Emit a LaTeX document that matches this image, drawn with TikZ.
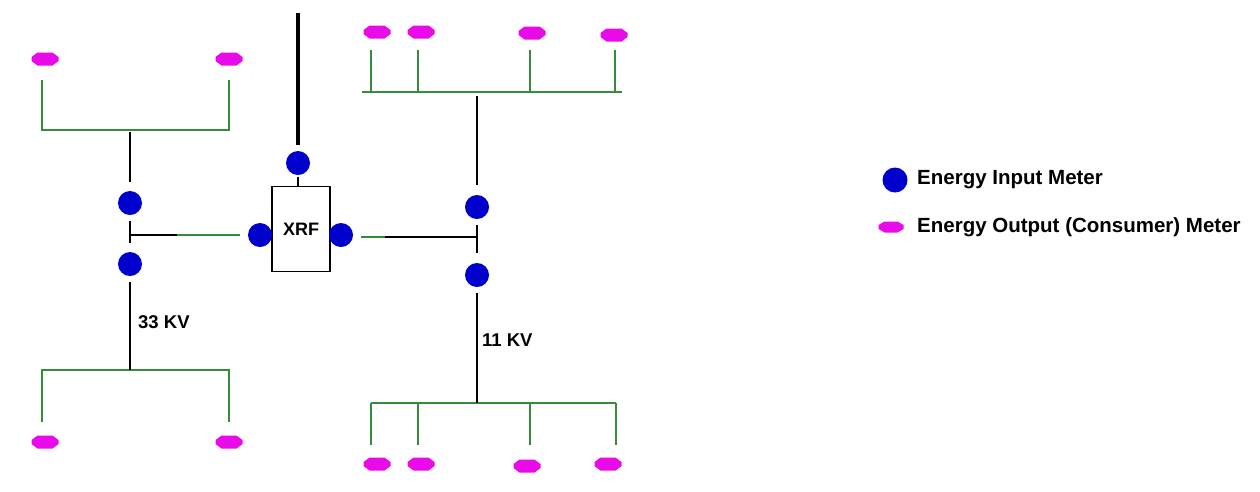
\documentclass[tikz,border=0pt]{standalone}
\usepackage{fontspec}
\setmainfont{Liberation Sans}
\usetikzlibrary{shapes.geometric}
\definecolor{meterblue}{RGB}{0,0,205}
\definecolor{metermag}{RGB}{232,10,232}
\definecolor{busgreen}{RGB}{55,140,60}
\begin{document}
\begin{tikzpicture}[x=1pt,y=-1pt,
  inmeter/.style={circle,fill=meterblue,draw=none,minimum size=24pt,inner sep=0pt},
  outmeter/.style={rectangle,draw=none,minimum width=27pt,minimum height=13pt,inner sep=0pt,
    path picture={\fill[metermag]
      ([yshift=2pt]path picture bounding box.west) --
      ([xshift=6pt]path picture bounding box.north west) --
      ([xshift=-6pt]path picture bounding box.north east) --
      ([yshift=2pt]path picture bounding box.east) --
      ([yshift=-2pt]path picture bounding box.east) --
      ([xshift=-6pt]path picture bounding box.south east) --
      ([xshift=6pt]path picture bounding box.south west) --
      ([yshift=-2pt]path picture bounding box.west) -- cycle;}},
  gl/.style={draw=busgreen,line width=2pt},
  bl/.style={draw=black,line width=2pt},
  feed/.style={draw=black,line width=4pt},
  lbl/.style={font=\fontsize{18.5}{22}\selectfont\bfseries,inner sep=0pt,anchor=west},
  leg/.style={font=\fontsize{20.5}{24}\selectfont\bfseries,inner sep=0pt,anchor=west},
  xrfbox/.style={draw=black,line width=1.5pt,minimum width=58pt,minimum height=85pt,inner sep=0pt,font=\fontsize{18}{22}\selectfont\bfseries}]
\useasboundingbox (0,0) rectangle (1260,491);
% ---------- transformer ----------
\node[xrfbox] (xrf) at (301,229) {XRF};
\node[inmeter] (mT) at (298,163) {};
\node[inmeter] (mXL) at (260,235) {};
\node[inmeter] (mXR) at (341,235) {};
\coordinate (feedTop) at (298,13);
\draw[feed,shorten >=6pt] (feedTop) -- (mT);
\draw[bl,line width=1.5pt,shorten <=2pt] (mT) -- (mT |- xrf.north);
% ---------- left (33 KV) side ----------
\node[inmeter] (mL1) at (130,203) {};
\node[inmeter] (mL2) at (130,264) {};
\node[outmeter] (pL1) at (45,59) {};
\node[outmeter] (pL2) at (229,59) {};
\node[outmeter] (pL3) at (45,442) {};
\node[outmeter] (pL4) at (229,442) {};
\coordinate (sL1) at (42,80);
\coordinate (sL2) at (229,80);
\coordinate (sL3) at (42,422);
\coordinate (sL4) at (229,422);
\coordinate (jLt) at (130,130);
\coordinate (jLb) at (130,370);
\coordinate (jL) at (130,235);
\coordinate (cL) at (177,235);
\draw[gl] (sL1) |- (jLt) -| (sL2);
\draw[gl] (sL3) |- (jLb) -| (sL4);
\draw[bl,shorten <=2pt,shorten >=9pt] (jLt) -- (mL1);
\draw[bl,shorten <=6pt,shorten >=9pt] (mL1) -- (mL2);
\draw[bl,shorten <=6pt] (mL2) -- (jLb);
\draw[bl] (jL) -- (cL);
\draw[gl,shorten >=8pt] (cL) -- (mXL);
\node[lbl] (kv33) at (138,322) {33 KV};
% ---------- right (11 KV) side ----------
\node[inmeter] (mR1) at (477,207) {};
\node[inmeter] (mR2) at (477,275) {};
\node[outmeter] (pR1) at (377,32) {};
\node[outmeter] (pR2) at (421,32) {};
\node[outmeter] (pR3) at (532,33) {};
\node[outmeter] (pR4) at (614,35) {};
\node[outmeter] (pR5) at (377,464) {};
\node[outmeter] (pR6) at (421,464) {};
\node[outmeter] (pR7) at (527,466) {};
\node[outmeter] (pR8) at (608,464) {};
\coordinate (eRtL) at (362,92);
\coordinate (eRtR) at (622,92);
\coordinate (eRbL) at (371,403);
\coordinate (eRbR) at (616,403);
\coordinate (sR1) at (371,50);
\coordinate (sR2) at (418,50);
\coordinate (sR3) at (530,50);
\coordinate (sR4) at (615,50);
\coordinate (sR5) at (371,445);
\coordinate (sR6) at (418,445);
\coordinate (sR7) at (530,445);
\coordinate (sR8) at (616,445);
\coordinate (jRt) at (477,92);
\coordinate (jRb) at (477,403);
\coordinate (jR) at (477,237);
\coordinate (cR) at (385,237);
\draw[gl] (eRtL) -- (eRtR);
\foreach \s in {sR1,sR2,sR3,sR4} \draw[gl] (\s) -- (\s |- eRtL);
\draw[gl] (eRbL) -- (eRbR);
\foreach \s in {sR5,sR6,sR7,sR8} \draw[gl] (\s) -- (\s |- eRbL);
\draw[bl,shorten <=4pt,shorten >=10pt] (jRt) -- (mR1);
\draw[bl,shorten <=6pt,shorten >=10pt] (mR1) -- (mR2);
\draw[bl,shorten <=6pt] (mR2) -- (jRb);
\draw[gl,shorten <=8pt] (mXR.east |- jR) -- (cR);
\draw[bl] (cR) -- (jR);
\node[lbl] (kv11) at (482,340) {11 KV};
% ---------- legend ----------
\node[inmeter,minimum size=25pt] (legIn) at (895,180) {};
\node[outmeter,minimum width=25pt,minimum height=11pt] (legOut) at (891,227) {};
\node[leg] (legInT) at (917,180) {Energy Input Meter};
\node[leg] (legOutT) at (917,227) {Energy Output (Consumer) Meter};
\end{tikzpicture}
\end{document}
